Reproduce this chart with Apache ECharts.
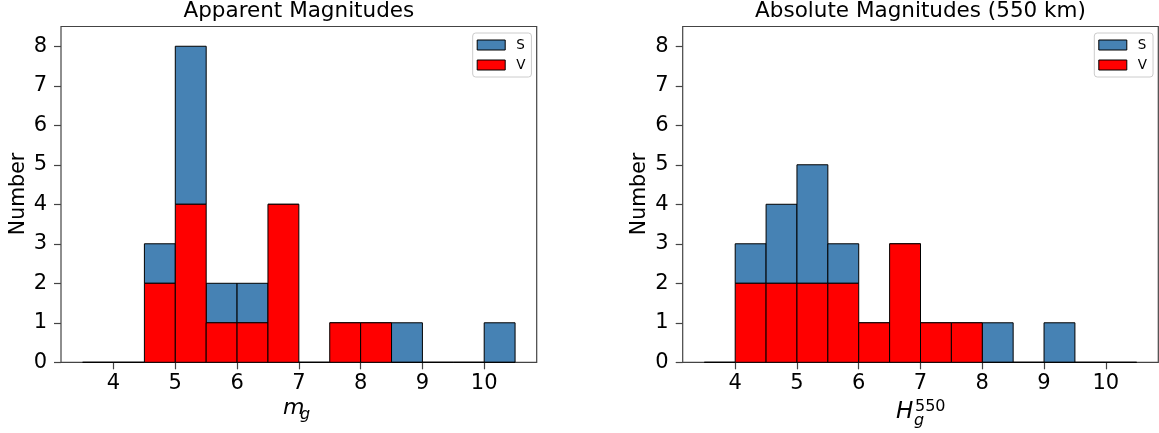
<!DOCTYPE html>
<html>
<head>
<meta charset="utf-8">
<script src="https://cdn.jsdelivr.net/npm/echarts@6/dist/echarts.min.js"></script>
<style>
html,body{margin:0;padding:0;background:#fff;}
#chart{width:1159px;height:433px;}
</style>
</head>
<body>
<div id="chart"></div>
<script>
// ---- data ----
const binEdges = [3.5, 4, 4.5, 5, 5.5, 6, 6.5, 7, 7.5, 8, 8.5, 9, 9.5, 10, 10.5];
const apparentV = [0, 0, 2, 4, 1, 1, 4, 0, 1, 1, 0, 0, 0, 0];
const apparentS = [0, 0, 1, 4, 1, 1, 0, 0, 0, 0, 1, 0, 0, 1];
const absoluteV = [0, 2, 2, 2, 2, 1, 3, 1, 1, 0, 0, 0, 0, 0];
const absoluteS = [0, 1, 2, 3, 1, 0, 0, 0, 0, 1, 0, 1, 0, 0];
const xTicks = [4, 5, 6, 7, 8, 9, 10];
const yTicks = [0, 1, 2, 3, 4, 5, 6, 7, 8];
const titles = ['Apparent Magnitudes', 'Absolute Magnitudes (550 km)'];
const seriesNames = ['S', 'V'];
const colors = { S: '#4682b4', V: '#ff0000' };

const FONT = 'DejaVu Sans';

function rectsFor(bottomCounts, counts, stacked) {
  const out = [];
  for (let i = 0; i < counts.length; i++) {
    const base = stacked ? bottomCounts[i] : 0;
    out.push([binEdges[i], binEdges[i + 1], base, base + counts[i]]);
  }
  return out;
}

function renderItem(params, api) {
  const x0 = api.value(0), x1 = api.value(1), y0 = api.value(2), y1 = api.value(3);
  const pTL = api.coord([x0, y1]);
  const pBR = api.coord([x1, y0]);
  if (y1 === y0) {
    return {
      type: 'line',
      shape: { x1: pTL[0], y1: pTL[1], x2: pBR[0], y2: pTL[1] },
      style: { stroke: '#000', lineWidth: 1 }
    };
  }
  return {
    type: 'rect',
    shape: { x: pTL[0], y: pTL[1], width: pBR[0] - pTL[0], height: pBR[1] - pTL[1] },
    style: { fill: api.visual('color'), stroke: '#000', lineWidth: 1 }
  };
}

const gridDefs = [
  { left: 61, top: 26.5, width: 475.7, height: 335.8 },
  { left: 682.7, top: 26.5, width: 475.6, height: 335.8 }
];

const grids = gridDefs.map(g => Object.assign({
  show: true, borderColor: '#444', borderWidth: 1.2, backgroundColor: 'transparent', containLabel: false
}, g));

const xAxes = gridDefs.map((g, i) => ({
  type: 'value', gridIndex: i, min: 3.15, max: 10.85,
  axisLine: { show: false },
  splitLine: { show: false },
  axisTick: { show: true, length: 7, customValues: xTicks, lineStyle: { color: '#444', width: 1.2 } },
  axisLabel: { customValues: xTicks, margin: 11, fontSize: 21, color: '#000', fontFamily: FONT }
}));

const yAxes = gridDefs.map((g, i) => ({
  type: 'value', gridIndex: i, min: 0, max: 8.5,
  axisLine: { show: false },
  splitLine: { show: false },
  axisTick: { show: true, length: 7, customValues: yTicks, lineStyle: { color: '#444', width: 1.2 } },
  axisLabel: { customValues: yTicks, margin: 14, fontSize: 21, color: '#000', fontFamily: FONT }
}));

const panels = [
  { V: apparentV, S: apparentS },
  { V: absoluteV, S: absoluteS }
];

const series = [];
panels.forEach((p, i) => {
  series.push({
    name: 'S', type: 'custom', xAxisIndex: i, yAxisIndex: i,
    renderItem: renderItem, itemStyle: { color: colors.S, borderColor: '#000', borderWidth: 1 },
    data: rectsFor(p.V, p.S, true), encode: { x: [0, 1], y: [2, 3] }, z: 2
  });
  series.push({
    name: 'V', type: 'custom', xAxisIndex: i, yAxisIndex: i,
    renderItem: renderItem, itemStyle: { color: colors.V, borderColor: '#000', borderWidth: 1 },
    data: rectsFor(p.V, p.V, false), encode: { x: [0, 1], y: [2, 3] }, z: 3
  });
});

const legendLefts = [472.7, 1094.3];
const legends = legendLefts.map(l => ({
  left: l, top: 33, orient: 'vertical', data: seriesNames, icon: 'rect',
  itemWidth: 28, itemHeight: 10, itemGap: 6, padding: [5, 6, 5, 4],
  backgroundColor: '#fff', borderColor: '#ccc', borderWidth: 1, borderRadius: 3,
  itemStyle: { borderColor: '#000', borderWidth: 1 },
  textStyle: { fontSize: 13.5, color: '#000', fontFamily: FONT, padding: [0, 0, 0, 6] },
  selectedMode: false
}));

const titleOpts = titles.map((t, i) => ({
  text: t, left: gridDefs[i].left + gridDefs[i].width / 2, top: 0, textAlign: 'center', padding: 0,
  textStyle: { fontSize: 21.5, fontWeight: 'normal', color: '#000', fontFamily: FONT }
}));

const graphics = [
  { type: 'text', x: 18.5, y: 194, rotation: Math.PI / 2,
    style: { text: 'Number', fontSize: 20.5, fontFamily: FONT, fill: '#000', align: 'center', verticalAlign: 'middle' } },
  { type: 'text', x: 640, y: 194, rotation: Math.PI / 2,
    style: { text: 'Number', fontSize: 20.5, fontFamily: FONT, fill: '#000', align: 'center', verticalAlign: 'middle' } },
  // m_g
  { type: 'text', x: 283, y: 408,
    style: { text: 'm', fontSize: 22, fontStyle: 'italic', fontFamily: FONT, fill: '#000', align: 'left', verticalAlign: 'middle' } },
  { type: 'text', x: 300, y: 415,
    style: { text: 'g', fontSize: 16, fontStyle: 'italic', fontFamily: FONT, fill: '#000', align: 'left', verticalAlign: 'middle' } },
  // H_g^550
  { type: 'text', x: 896, y: 412,
    style: { text: 'H', fontSize: 23, fontStyle: 'italic', fontFamily: FONT, fill: '#000', align: 'left', verticalAlign: 'middle' } },
  { type: 'text', x: 914, y: 421,
    style: { text: 'g', fontSize: 16, fontStyle: 'italic', fontFamily: FONT, fill: '#000', align: 'left', verticalAlign: 'middle' } },
  { type: 'text', x: 915, y: 407,
    style: { text: '550', fontSize: 16, fontFamily: FONT, fill: '#000', align: 'left', verticalAlign: 'middle' } }
];

const chart = echarts.init(document.getElementById('chart'), null, { renderer: 'canvas' });
chart.setOption({
  animation: false,
  backgroundColor: '#fff',
  textStyle: { fontFamily: FONT },
  title: titleOpts,
  legend: legends,
  grid: grids,
  xAxis: xAxes,
  yAxis: yAxes,
  series: series,
  graphic: graphics
});
</script>
</body>
</html>
